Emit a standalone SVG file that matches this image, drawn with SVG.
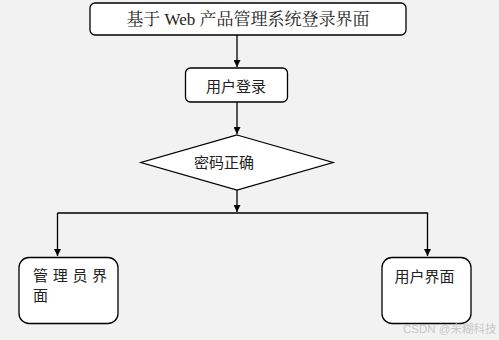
<svg xmlns="http://www.w3.org/2000/svg" width="499" height="340" viewBox="0 0 499 340">
<style>
.box{fill:#fff;stroke:#000;stroke-width:1.3}
.line{fill:none;stroke:#000;stroke-width:1.3}
.t{font-family:"Noto Sans CJK SC","Liberation Sans",sans-serif;font-size:15px;fill:#222}
.serif{font-family:"Liberation Serif","Noto Serif CJK SC","Noto Sans CJK SC",serif;font-size:17px;fill:#222}
.wm{font-family:"Liberation Sans","Noto Sans CJK SC",sans-serif;font-size:11.5px;fill:#c8c8c8}
</style>
<defs>
<marker id="arr" viewBox="0 0 10 10" refX="10" refY="5" markerWidth="7" markerHeight="7" markerUnits="userSpaceOnUse" orient="auto">
<path d="M0,0 L10,5 L0,10 Z" fill="#000"/>
</marker>
</defs>
<rect width="499" height="340" fill="#f2f2f2"/>
<g id="connectors">
<line class="line" x1="237" y1="35" x2="237" y2="67" marker-end="url(#arr)"/>
<line class="line" x1="237" y1="102" x2="237" y2="134" marker-end="url(#arr)"/>
<line class="line" x1="237" y1="190" x2="237" y2="212" marker-end="url(#arr)"/>
<polyline class="line" points="57.5,213 427.5,213 427.5,256" marker-end="url(#arr)"/>
<line class="line" x1="57.5" y1="213" x2="57.5" y2="256" marker-end="url(#arr)"/>
</g>
<g id="start">
<rect class="box" x="90" y="3" width="316" height="32" rx="5"/>
<text class="serif" x="248" y="25" text-anchor="middle">基于 Web 产品管理系统登录界面</text>
</g>
<g id="login">
<rect class="box" x="185.5" y="68" width="102" height="34" rx="5"/>
<text class="t" x="236" y="92" text-anchor="middle">用户登录</text>
</g>
<g id="check">
<polygon class="box" points="237,135 333,162.5 237,190 141,162.5"/>
<text class="t" x="224" y="168" text-anchor="middle">密码正确</text>
</g>
<g id="admin">
<rect class="box" x="19" y="257.5" width="99" height="66" rx="10"/>
<text class="t" x="33" y="281" letter-spacing="4.7">管理员界</text>
<text class="t" x="33" y="301">面</text>
</g>
<g id="user">
<rect class="box" x="382" y="257.5" width="89" height="66" rx="10"/>
<text class="t" x="424.5" y="282" text-anchor="middle">用户界面</text>
</g>
<text class="wm" x="403" y="333">CSDN @米糊科技</text>
</svg>
